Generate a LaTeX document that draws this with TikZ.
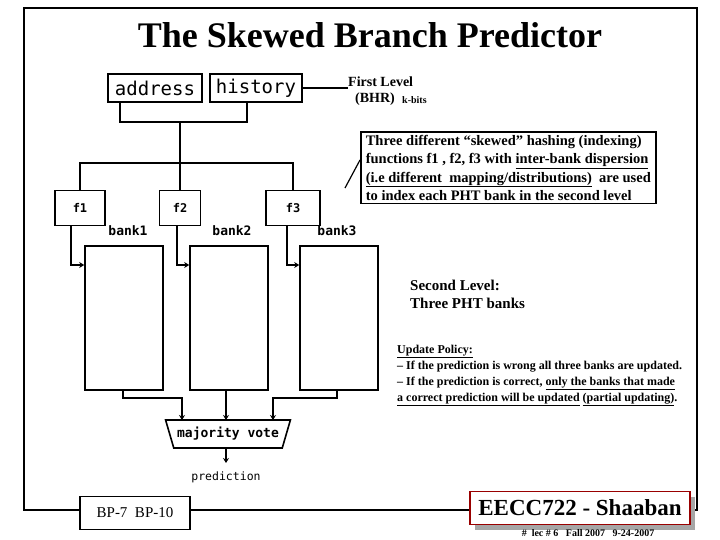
\documentclass[tikz,border=0pt]{standalone}
\usepackage{fontspec}
\setmainfont{Liberation Serif}
\newfontfamily\pixfont{DejaVu Sans Mono}
\usepackage{tikz}
\usetikzlibrary{arrows.meta, shapes.geometric}
\tikzset{
  box/.style={draw, line width=1.6pt, inner sep=0pt},
  wire/.style={line width=1.6pt},
  feed/.style={wire, -{Stealth[length=5pt,width=6pt]}},
  note/.style={font=\bfseries\fontsize{11}{15}\selectfont, anchor=north west, align=left, inner sep=0pt}
}
\begin{document}
\begin{tikzpicture}[x=1pt, y=-1pt]
\useasboundingbox (0,0) rectangle (720,540);
% frame
\draw[line width=2.5pt] (24,8) rectangle (697,510);
\node[font=\bfseries\fontsize{36}{36}\selectfont] (title) at (370,35) {The Skewed Branch Predictor};
% first level
\node[box, minimum width=94pt, minimum height=28pt, font=\pixfont\fontsize{19}{19}\selectfont] (addr) at (155,88) {address};
\node[box, minimum width=92pt, minimum height=28pt, font=\pixfont\fontsize{19}{19}\selectfont] (hist) at (256,88) {history};
\node[note, font=\bfseries\fontsize{14}{16}\selectfont] (first) at (348,77) {First Level\\\ \ (BHR)};
\node[note, font=\bfseries\fontsize{10}{10}\selectfont] (kbits) at (402,96) {k-bits};
\draw[wire] (hist.east) -- (first.west |- hist.east);
\coordinate (join) at (180,122);
\coordinate (split) at (180,163);
\draw[wire] (addr.south -| 120,0) |- (join) -| (hist.south -| 247,0);
\draw[wire] (join) -- (split);
% hash functions
\foreach \name/\x/\w in {f1/80/50, f2/180/41, f3/293/54}
  \node[box, minimum width=\w pt, minimum height=35pt, font=\pixfont\bfseries\fontsize{12}{12}\selectfont] (\name) at (\x,208) {\name};
\draw[wire] (f1.north) |- (split) -| (f3.north);
\draw[wire] (split) -- (f2.north);
% banks
\foreach \i/\x/\lx in {1/124/128, 2/229/232, 3/339/337} {
  \node[box, minimum width=78pt, minimum height=144pt] (bank\i) at (\x,318) {};
  \node[font=\pixfont\bfseries\fontsize{13}{13}\selectfont] (blabel\i) at (\lx,231) {bank\i};
}
\foreach \i/\x in {1/71, 2/177, 3/287}
  \draw[feed] (f\i.south -| \x,0) |- (bank\i.west |- 0,265);
% majority vote
\node[trapezium, shape border rotate=180, trapezium stretches=true, draw, line width=1.6pt,
  minimum width=125pt, minimum height=28pt, inner sep=0pt, font=\pixfont\bfseries\fontsize{13}{13}\selectfont] (vote) at (228,434) {majority vote};
\draw[feed] (bank1.south -| 123,0) |- (182,398) -- (182,420);
\draw[feed] (bank2.south -| 226,0) -- (226,420);
\draw[feed] (bank3.south -| 337,0) |- (273,398) -- (273,420);
\node[font=\pixfont\fontsize{11.5}{11.5}\selectfont] (pred) at (226,477) {prediction};
\draw[feed] (vote.south -| 226,0) -- (226,463);
% notes
\node[note, draw, line width=1.6pt, inner xsep=5pt, inner ysep=3pt, font=\bfseries\fontsize{14.5}{18.5}\selectfont] (hashbox) at (360,131)
  {Three different ``skewed'' hashing (indexing)\\functions f1 , f2, f3 with \underline{inter-bank dispersion}\\\underline{(i.e different\ \ mapping/distributions)}\ \ are used\\to index each PHT bank in the second level};
\coordinate (tip) at (345,188);
\draw[wire, line width=1.2pt] (hashbox.west |- 0,160) -- (tip);
\node[note, font=\bfseries\fontsize{15}{18}\selectfont] (second) at (410,280) {Second Level:\\Three PHT banks};
\node[note, font=\bfseries\fontsize{12}{16}\selectfont] (policy) at (397,345)
  {\underline{Update Policy:}\\
   -- If the prediction is wrong all three banks are updated.\\
   -- If the prediction is correct, \underline{only the banks that made}\\
   \underline{a correct prediction will be updated} \underline{(partial updating)}.};
% footer
\node[box, fill=white, minimum width=110pt, minimum height=33pt, font=\fontsize{15}{15}\selectfont] (bp) at (135,513) {BP-7\ \ BP-10};
\fill[gray!70] (475,497) rectangle (695,530);
\node[draw=red!60!black, line width=1.6pt, fill=white, minimum width=220pt, minimum height=33pt, inner sep=0pt,
  font=\bfseries\fontsize{23}{23}\selectfont] (brand) at (580,508) {EECC722 - Shaaban};
\node[font=\bfseries\fontsize{10}{10}\selectfont] (lec) at (588,533) {\#\ \ lec \# 6\ \ \ Fall 2007\ \ \ 9-24-2007};
\end{tikzpicture}
\end{document}
